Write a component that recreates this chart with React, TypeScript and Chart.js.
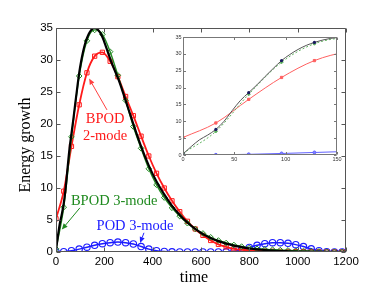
import React, { useEffect, useRef } from "react";
import { Chart, registerables } from "chart.js";
Chart.register(...registerables);

// ---------------- data ----------------
const markerTimes = [
  0, 32, 64, 96, 128, 160, 192, 224, 256, 288, 320, 352, 384, 416, 448, 480, 512, 544, 576, 608,
  640, 672, 704, 736, 768, 800, 832, 864, 896, 928, 960, 992, 1024, 1056, 1088, 1120, 1152, 1184,
];
const bpod2Energy = [
  5.2, 9.5, 16.5, 23, 28, 30.6, 31.2, 29.8, 27.4, 24.3, 21.3, 18.1, 15.0, 12.3, 10.0, 8.0, 6.3, 4.8, 3.6, 2.6,
  1.8, 1.2, 0.8, 0.5, 0.35, 0.25, 0.2, 0.15, 0.12, 0.1, 0.08, 0.06, 0.05, 0.04, 0.03, 0.02, 0.01, 0,
];
const bpod3Energy = [
  0.5, 7, 18, 27.5, 33, 34.7, 34, 31.3, 27.6, 23.7, 19.6, 16.2, 13, 10.5, 8.5, 6.9, 5.6, 4.5, 3.6, 2.9,
  2.3, 1.8, 1.4, 1.1, 0.85, 0.65, 0.5, 0.42, 0.36, 0.3, 0.25, 0.2, 0.16, 0.12, 0.09, 0.06, 0.04, 0.02,
];
const pod3Energy = [
  0, 0.05, 0.2, 0.45, 0.75, 1.05, 1.3, 1.45, 1.55, 1.45, 1.25, 0.85, 0.45, 0.2, 0.08, 0.03, 0, 0, 0, 0,
  0, 0, 0.02, 0.1, 0.35, 0.7, 1.05, 1.3, 1.45, 1.45, 1.35, 1.15, 0.85, 0.5, 0.2, 0.05, 0, 0,
];
const exactTimes = [
  0, 8, 16, 24, 32, 40, 48, 56, 64, 72, 80, 88, 96, 104, 112, 120, 128, 136, 144, 152, 160, 168, 176, 184,
  192, 200, 215, 230, 245, 260, 280, 300, 320, 352, 384, 416, 448, 480, 512, 544, 576, 608, 640, 672, 704,
  736, 768, 800, 832, 864, 896, 928, 960, 1000, 1100, 1200,
];
const exactEnergy = [
  0.3, 2.5, 4.5, 5.9, 7.6, 10, 13.2, 16.2, 18.5, 20.8, 23.3, 25.7, 28, 29.8, 31.3, 32.5, 33.4, 34.1, 34.6, 34.9,
  35.0, 34.9, 34.6, 34.2, 33.6, 32.8, 31.2, 29.6, 28.2, 26.8, 24.6, 22.3, 20, 16.5, 13.5, 11, 9, 7.2, 5.8, 4.6,
  3.6, 2.8, 2.2, 1.7, 1.3, 1.0, 0.75, 0.55, 0.4, 0.3, 0.22, 0.16, 0.12, 0.08, 0.03, 0.01,
];

const mainXRange = [0, 1200];
const mainYRange = [0, 35];
const insetXRange = [0, 150];
const insetYRange = [0, 35];
const mainXStep = 200;
const insetXStep = 50;
const yStep = 5;

const notes = [
  { text: "BPOD", t: 203, v: 20.8, color: "#ff1a1a" },
  { text: "2-mode", t: 203, v: 18.1, color: "#ff1a1a" },
  { text: "BPOD 3-mode", t: 241, v: 7.9, color: "#1f8a1f" },
  { text: "POD 3-mode", t: 327, v: 4.05, color: "#2020ff" },
];
const arrows = [
  { from: [211, 22.2], to: [137, 27.1], color: "#ff4040" },
  { from: [99, 6.9], to: [24, 3.5], color: "#1f8a1f" },
  { from: [364, 3.0], to: [348, 1.4], color: "#2020ff" },
];

// ---------------- helpers ----------------
const pts = (xs: number[], ys: number[]) => xs.map((x, i) => ({ x, y: ys[i] }));
const RED = "#ff1a1a";
const GREEN = "#228b22";
const BLUE = "#1c1cff";

function framePlugin(tickLen: number, color: string) {
  return {
    id: "frame",
    afterDatasetsDraw(chart: any) {
      const { ctx, chartArea: a, scales } = chart;
      const L = Math.round(a.left) + 0.5;
      const R = Math.round(a.right) - 0.5;
      const T = Math.round(a.top) + 0.5;
      const B = Math.round(a.bottom) - 0.5;
      ctx.save();
      ctx.strokeStyle = color;
      ctx.lineWidth = 1;
      ctx.beginPath();
      ctx.rect(L, T, R - L, B - T);
      for (const t of scales.x.ticks) {
        const px = Math.round(scales.x.getPixelForValue(t.value)) + 0.5;
        ctx.moveTo(px, B);
        ctx.lineTo(px, B - tickLen);
        ctx.moveTo(px, T);
        ctx.lineTo(px, T + tickLen);
      }
      for (const t of scales.y.ticks) {
        const py = Math.round(scales.y.getPixelForValue(t.value)) + 0.5;
        ctx.moveTo(L, py);
        ctx.lineTo(L + tickLen, py);
        ctx.moveTo(R, py);
        ctx.lineTo(R - tickLen, py);
      }
      ctx.stroke();
      ctx.restore();
    },
  };
}

const labelPlugin = {
  id: "labels",
  afterDraw(chart: any) {
    const { ctx, scales } = chart;
    const X = scales.x, Y = scales.y;
    ctx.save();
    ctx.textAlign = "center";
    ctx.textBaseline = "middle";
    ctx.font = '14.5px "Liberation Serif"';
    for (const n of notes) {
      ctx.fillStyle = n.color;
      ctx.fillText(n.text, X.getPixelForValue(n.t), Y.getPixelForValue(n.v));
    }
    for (const a of arrows) {
      const x1 = X.getPixelForValue(a.from[0]);
      const y1 = Y.getPixelForValue(a.from[1]);
      const x2 = X.getPixelForValue(a.to[0]);
      const y2 = Y.getPixelForValue(a.to[1]);
      const ang = Math.atan2(y2 - y1, x2 - x1);
      const hl = 6, hw = 2.6;
      const bx = x2 - hl * Math.cos(ang), by = y2 - hl * Math.sin(ang);
      ctx.strokeStyle = a.color;
      ctx.fillStyle = a.color;
      ctx.lineWidth = 1;
      ctx.beginPath();
      ctx.moveTo(x1, y1);
      ctx.lineTo(bx, by);
      ctx.stroke();
      ctx.beginPath();
      ctx.moveTo(x2, y2);
      ctx.lineTo(bx + hw * Math.sin(ang), by - hw * Math.cos(ang));
      ctx.lineTo(bx - hw * Math.sin(ang), by + hw * Math.cos(ang));
      ctx.closePath();
      ctx.fill();
    }
    // axis titles
    ctx.fillStyle = "#000";
    ctx.font = '16px "Liberation Serif"';
    ctx.fillText("time", 194, 278);
    ctx.save();
    ctx.translate(26, 145);
    ctx.rotate(-Math.PI / 2);
    ctx.fillText("Energy growth", 0, 0);
    ctx.restore();
    ctx.restore();
  },
};

function axes(xr: number[], yr: number[], xStep: number, yW: number, xH: number, fontSize: number, yPad: number, xPad: number, color: string) {
  const fmt = (v: any) => String(v);
  return {
    x: {
      type: "linear" as const,
      min: xr[0],
      max: xr[1],
      grid: { display: false, drawTicks: false },
      border: { display: false },
      ticks: { stepSize: xStep, padding: xPad, color, font: { family: "Liberation Sans", size: fontSize }, maxRotation: 0, callback: fmt },
      afterFit: (s: any) => { s.height = xH; },
    },
    y: {
      type: "linear" as const,
      min: yr[0],
      max: yr[1],
      grid: { display: false, drawTicks: false },
      border: { display: false },
      ticks: { stepSize: yStep, padding: yPad, color, font: { family: "Liberation Sans", size: fontSize }, callback: fmt },
      afterFit: (s: any) => { s.width = yW; },
    },
  };
}

export default function App() {
  const mainRef = useRef<HTMLCanvasElement>(null);
  const insetRef = useRef<HTMLCanvasElement>(null);

  useEffect(() => {
    document.body.style.margin = "0";
    const main = new Chart(mainRef.current!, {
      type: "line",
      data: {
        datasets: [
          { data: pts(exactTimes, exactEnergy), borderColor: "#000", borderWidth: 2.2, pointRadius: 0, cubicInterpolationMode: "monotone" },
          { data: pts(markerTimes, bpod3Energy), borderColor: GREEN, borderWidth: 1.4, pointStyle: "rectRot", pointRadius: 2.8, pointBorderColor: GREEN, pointBackgroundColor: "rgba(0,0,0,0)", pointBorderWidth: 1, cubicInterpolationMode: "monotone" },
          { data: pts(markerTimes, bpod2Energy), borderColor: RED, borderWidth: 1.8, pointStyle: "rect", pointRadius: 3, pointBorderColor: RED, pointBackgroundColor: "rgba(0,0,0,0)", pointBorderWidth: 1, cubicInterpolationMode: "monotone" },
          { data: pts(markerTimes, pod3Energy), borderColor: BLUE, borderWidth: 1.5, pointStyle: "circle", pointRadius: 3.2, pointBorderColor: BLUE, pointBackgroundColor: "rgba(0,0,0,0)", pointBorderWidth: 1.1, cubicInterpolationMode: "monotone" },
        ],
      },
      options: {
        responsive: false,
        animation: false,
        events: [],
        layout: { padding: { left: 0, right: 44, top: 28, bottom: 0 } },
        plugins: { legend: { display: false }, tooltip: { enabled: false } },
        scales: axes(mainXRange, mainYRange, mainXStep, 56, 39, 11.5, 3, 3, "#000"),
      },
      plugins: [framePlugin(4, "#555"), labelPlugin],
    });

    const insetBlackRadius = (c: any) => (c.raw && c.raw.x <= 128 && c.raw.x % 32 === 0 ? 1.6 : 0);
    const inset = new Chart(insetRef.current!, {
      type: "line",
      data: {
        datasets: [
          { data: pts(exactTimes, exactEnergy), borderColor: "#555", borderWidth: 1, pointRadius: insetBlackRadius, pointBackgroundColor: "#1a1a60", pointBorderColor: "#1a1a60", pointBorderWidth: 0, cubicInterpolationMode: "monotone" },
          { data: pts(markerTimes, bpod3Energy), borderColor: "#5fb35f", borderWidth: 1, borderDash: [2, 2], pointRadius: 1.5, pointStyle: "rectRot", pointBackgroundColor: "#5fb35f", pointBorderColor: "#5fb35f", cubicInterpolationMode: "monotone" },
          { data: pts(markerTimes, bpod2Energy), borderColor: "#ff6060", borderWidth: 1, pointRadius: 1.6, pointStyle: "rect", pointBackgroundColor: "#ff6060", pointBorderColor: "#ff6060", cubicInterpolationMode: "monotone" },
          { data: pts(markerTimes, pod3Energy), borderColor: "#6060ff", borderWidth: 1, pointRadius: 1.5, pointStyle: "circle", pointBackgroundColor: "#8080ff", pointBorderColor: "#6060ff", cubicInterpolationMode: "monotone" },
        ],
      },
      options: {
        responsive: false,
        animation: false,
        events: [],
        layout: { padding: { left: 0, right: 8, top: 9, bottom: 0 } },
        plugins: { legend: { display: false }, tooltip: { enabled: false } },
        scales: axes(insetXRange, insetYRange, insetXStep, 23, 13, 5.5, 1.5, 1.5, "#333"),
      },
      plugins: [framePlugin(2.5, "#777")],
    });

    return () => {
      main.destroy();
      inset.destroy();
    };
  }, []);

  return (
    <div style={{ position: "relative", width: 390, height: 291, background: "#fff" }}>
      <canvas ref={mainRef} width={390} height={291} style={{ position: "absolute", left: 0, top: 0, width: 390, height: 291 }} />
      <canvas ref={insetRef} width={185} height={140} style={{ position: "absolute", left: 160, top: 28, width: 185, height: 140 }} />
    </div>
  );
}
